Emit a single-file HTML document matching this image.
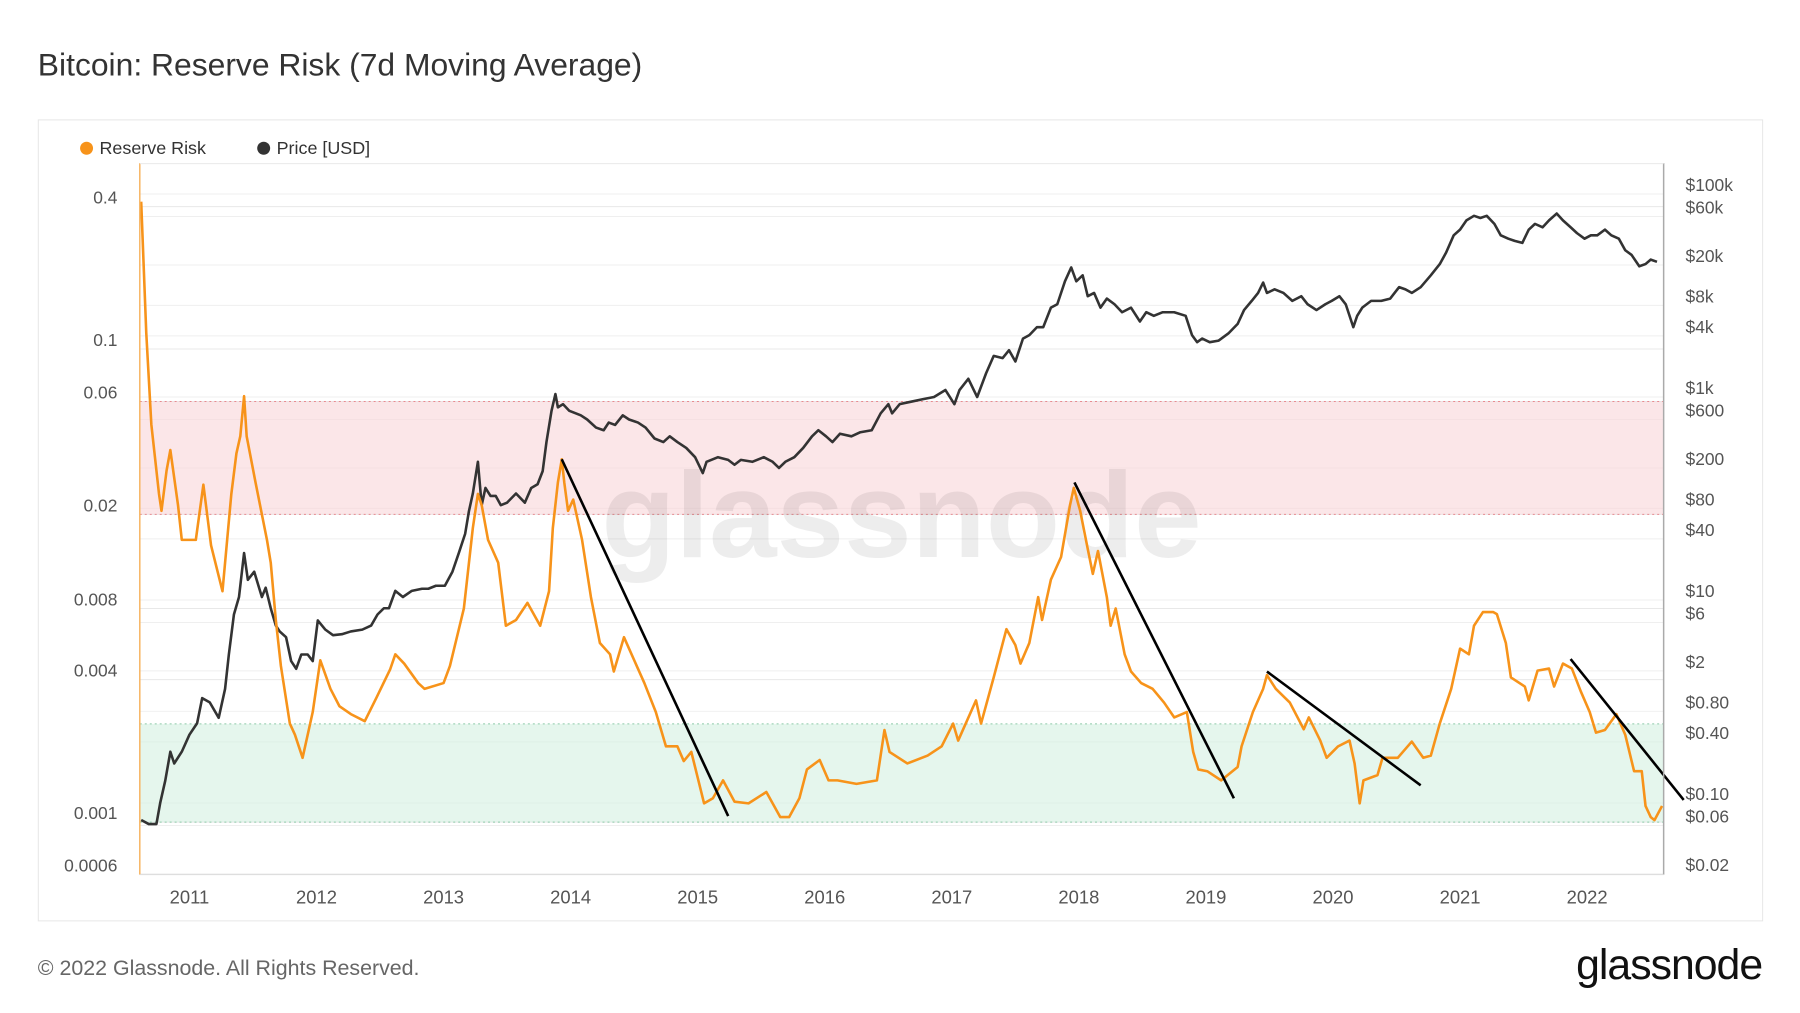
<!DOCTYPE html>
<html><head><meta charset="utf-8">
<style>
html,body{margin:0;padding:0;background:#fff;width:1800px;height:1013px;overflow:hidden;font-family:"Liberation Sans",sans-serif;}
svg{display:block}
</style></head>
<body>
<svg id="chart" width="1800" height="1013" viewBox="0 0 1800 1013">
 <g transform="scale(0.995)">
  <text x="38" y="76" font-size="32" fill="#333">Bitcoin: Reserve Risk (7d Moving Average)</text>
  <rect x="38.5" y="120.5" width="1733" height="805" fill="#fff" stroke="#e6e6e6"/>
  <g>
    <g>
      <circle cx="87" cy="149" r="6.5" fill="#f7931a"/>
      <text x="100" y="155" font-size="18" fill="#333">Reserve Risk</text>
    </g>
    <g>
      <circle cx="265" cy="149" r="6.5" fill="#333"/>
      <text x="278" y="155" font-size="18" fill="#333">Price [USD]</text>
    </g>
  </g>
  <g id="grid"></g>
  <g id="bands"></g>
  <text x="906" y="560" font-size="122" font-weight="bold" fill="#000" fill-opacity="0.07" text-anchor="middle">glassnode</text>
  <g id="series"></g>
  <g id="axes"></g>
  <text x="38" y="980" font-size="21.5" fill="#666">© 2022 Glassnode. All Rights Reserved.</text>
  <text x="1771" y="984" font-size="43" fill="#111" text-anchor="end" letter-spacing="-1">glassnode</text>
 </g>
</svg>
<script>
const rrYears=[2010.62,2010.66,2010.70,2010.76,2010.78,2010.82,2010.85,2010.91,2010.94,2011.05,2011.11,2011.17,2011.26,2011.33,2011.37,2011.40,2011.43,2011.45,2011.52,2011.61,2011.64,2011.68,2011.72,2011.79,2011.83,2011.89,2011.97,2012.03,2012.11,2012.18,2012.27,2012.38,2012.47,2012.58,2012.62,2012.69,2012.80,2012.85,2013.00,2013.05,2013.16,2013.23,2013.27,2013.30,2013.35,2013.43,2013.49,2013.57,2013.66,2013.76,2013.83,2013.86,2013.90,2013.93,2013.95,2013.98,2014.02,2014.09,2014.16,2014.23,2014.31,2014.34,2014.42,2014.50,2014.58,2014.67,2014.75,2014.84,2014.89,2014.95,2015.05,2015.12,2015.20,2015.29,2015.40,2015.54,2015.65,2015.72,2015.80,2015.86,2015.96,2016.03,2016.10,2016.25,2016.41,2016.47,2016.51,2016.65,2016.81,2016.92,2017.01,2017.05,2017.19,2017.23,2017.33,2017.43,2017.50,2017.54,2017.61,2017.68,2017.71,2017.78,2017.86,2017.93,2017.96,2018.01,2018.07,2018.11,2018.15,2018.22,2018.25,2018.29,2018.36,2018.41,2018.49,2018.58,2018.67,2018.75,2018.85,2018.90,2018.94,2019.01,2019.12,2019.25,2019.28,2019.37,2019.45,2019.48,2019.55,2019.66,2019.77,2019.81,2019.90,2019.95,2020.04,2020.13,2020.17,2020.21,2020.24,2020.35,2020.39,2020.51,2020.62,2020.71,2020.77,2020.84,2020.93,2021.00,2021.07,2021.11,2021.18,2021.26,2021.29,2021.36,2021.40,2021.51,2021.54,2021.61,2021.70,2021.74,2021.81,2021.88,2021.95,2022.02,2022.07,2022.14,2022.23,2022.30,2022.37,2022.43,2022.46,2022.50,2022.53,2022.59];
const rrValues=[0.42,0.117,0.048,0.0244,0.0207,0.0306,0.0374,0.0219,0.0156,0.0156,0.0267,0.0148,0.00946,0.0244,0.0362,0.0428,0.0632,0.0428,0.0273,0.0156,0.0125,0.00715,0.00457,0.00261,0.00234,0.00187,0.00292,0.00483,0.00366,0.00309,0.00286,0.00267,0.00334,0.00443,0.00512,0.00468,0.00387,0.00366,0.00387,0.00457,0.0080,0.0175,0.0244,0.0219,0.0156,0.0125,0.00676,0.00715,0.00845,0.00676,0.00946,0.0175,0.0273,0.0342,0.0273,0.0207,0.0231,0.0156,0.00894,0.00572,0.00512,0.00433,0.00605,0.00483,0.00387,0.00292,0.00209,0.00209,0.00181,0.00198,0.00120,0.00126,0.00150,0.00122,0.00120,0.00134,0.00105,0.00105,0.00126,0.00167,0.00183,0.00150,0.00150,0.00145,0.00150,0.00245,0.00198,0.00177,0.00191,0.00209,0.00261,0.00221,0.00327,0.00261,0.00409,0.00654,0.00560,0.00468,0.00572,0.00894,0.00715,0.0106,0.0132,0.0219,0.0259,0.0207,0.0143,0.0112,0.0140,0.00894,0.00676,0.0080,0.00512,0.00433,0.00387,0.00366,0.0032,0.00277,0.00292,0.00198,0.00167,0.00164,0.00150,0.00171,0.00209,0.00292,0.00366,0.00418,0.00366,0.0032,0.00247,0.00277,0.00221,0.00187,0.00209,0.00221,0.00177,0.00120,0.00150,0.00158,0.00187,0.00187,0.00219,0.00187,0.00191,0.00261,0.00366,0.00541,0.00512,0.00676,0.00773,0.00773,0.00757,0.00572,0.00409,0.00374,0.00327,0.00437,0.00446,0.00374,0.00468,0.00446,0.00357,0.00292,0.00239,0.00245,0.00286,0.00234,0.00164,0.00164,0.00117,0.00105,0.00102,0.00117];
const priceYears=[2010.62,2010.68,2010.74,2010.77,2010.81,2010.85,2010.88,2010.94,2011.00,2011.06,2011.10,2011.16,2011.23,2011.28,2011.31,2011.35,2011.39,2011.43,2011.46,2011.51,2011.57,2011.60,2011.64,2011.68,2011.71,2011.76,2011.80,2011.84,2011.88,2011.93,2011.97,2012.01,2012.07,2012.13,2012.20,2012.27,2012.36,2012.43,2012.48,2012.53,2012.57,2012.62,2012.68,2012.75,2012.83,2012.88,2012.94,2013.01,2013.07,2013.12,2013.17,2013.20,2013.23,2013.27,2013.30,2013.33,2013.37,2013.41,2013.45,2013.50,2013.57,2013.64,2013.69,2013.74,2013.78,2013.81,2013.85,2013.88,2013.90,2013.94,2013.99,2014.08,2014.13,2014.20,2014.26,2014.30,2014.35,2014.41,2014.46,2014.53,2014.59,2014.66,2014.73,2014.78,2014.84,2014.91,2014.98,2015.04,2015.07,2015.16,2015.24,2015.29,2015.34,2015.43,2015.52,2015.59,2015.64,2015.69,2015.76,2015.83,2015.90,2015.95,2016.01,2016.06,2016.12,2016.21,2016.28,2016.37,2016.44,2016.50,2016.53,2016.59,2016.68,2016.77,2016.86,2016.95,2017.02,2017.06,2017.13,2017.20,2017.27,2017.33,2017.40,2017.45,2017.50,2017.56,2017.61,2017.67,2017.72,2017.78,2017.83,2017.89,2017.94,2017.98,2018.03,2018.07,2018.12,2018.17,2018.22,2018.28,2018.34,2018.41,2018.48,2018.53,2018.59,2018.66,2018.75,2018.84,2018.89,2018.93,2018.97,2019.03,2019.10,2019.18,2019.25,2019.30,2019.36,2019.41,2019.45,2019.48,2019.54,2019.61,2019.68,2019.75,2019.80,2019.87,2019.94,2019.99,2020.05,2020.10,2020.16,2020.19,2020.23,2020.30,2020.38,2020.45,2020.52,2020.57,2020.62,2020.69,2020.77,2020.84,2020.89,2020.95,2021.00,2021.05,2021.11,2021.16,2021.21,2021.27,2021.32,2021.38,2021.43,2021.49,2021.54,2021.59,2021.65,2021.70,2021.76,2021.81,2021.87,2021.92,2021.98,2022.03,2022.08,2022.14,2022.19,2022.25,2022.30,2022.35,2022.41,2022.46,2022.50,2022.55,2022.59];
const priceValues=[0.068,0.062,0.062,0.10,0.166,0.32,0.245,0.32,0.47,0.61,1.08,0.98,0.69,1.33,2.9,7.2,10.7,29,15.8,19,10.7,13.2,8.3,5.6,4.9,4.3,2.5,2.1,2.9,2.9,2.5,6.3,5.1,4.5,4.6,4.9,5.1,5.6,7.2,8.3,8.3,12.3,10.7,12.3,12.9,12.9,13.8,13.8,19,29,45,75,112,230,86,127,106,106,86,91,112,91,127,138,186,360,730,1070,790,850,730,660,600,500,470,560,530,660,600,560,500,390,360,410,360,315,255,178,230,255,240,215,240,230,255,230,200,230,255,315,410,470,410,360,435,410,450,470,690,850,690,850,900,950,1000,1170,850,1170,1510,1000,1720,2540,2420,2890,2240,3760,4070,4880,4880,7600,8200,13800,18900,13800,15800,9840,10600,7600,9330,8200,6840,7600,5550,6840,6310,6840,6840,6310,4070,3470,3760,3470,3600,4270,5250,7200,8850,10600,13400,10600,11500,10600,8850,9840,8200,7200,8200,8850,9840,8200,4880,6310,7600,8850,8850,9330,12100,11500,10600,12100,15800,20400,26500,39200,44600,55000,61000,58000,61000,50800,39200,36300,34500,33000,44600,50800,47000,55000,64300,55000,47000,41200,36300,39200,39200,44600,39200,36300,27900,25100,19400,20400,22600,21500];
const trendStartYears=[2013.93,2017.965,2019.48,2021.87];
const trendStartValues=[0.0342,0.0273,0.00433,0.00489];
const trendEndYears=[2015.24,2019.22,2020.69,2022.76];
const trendEndValues=[0.00106,0.00126,0.00143,0.00124];
const rrTicks=[0.4,0.1,0.06,0.02,0.008,0.004,0.001,0.0006];
const rrTickLabels=["0.4","0.1","0.06","0.02","0.008","0.004","0.001","0.0006"];
const priceTicks=[100000,60000,20000,8000,4000,1000,600,200,80,40,10,6,2,0.8,0.4,0.1,0.06,0.02];
const priceTickLabels=["$100k","$60k","$20k","$8k","$4k","$1k","$600","$200","$80","$40","$10","$6","$2","$0.80","$0.40","$0.10","$0.06","$0.02"];
const yearTicks=[2011,2012,2013,2014,2015,2016,2017,2018,2019,2020,2021,2022];
const redBand=[0.02,0.06];
const greenBand=[0.001,0.0026];

const NS="http://www.w3.org/2000/svg";
const PL=140.5,PR=1672,PT=164,PB=879;
function xS(t){return 190.4+(t-2011)*127.7;}
function yRR(v){return 350.8+(-1-Math.log10(v))*237.7;}
function yP(p){return 195.0+(5-Math.log10(p))*102.0;}
function mk(tag,attrs,parent){const e=document.createElementNS(NS,tag);for(const k in attrs)e.setAttribute(k,attrs[k]);parent.appendChild(e);return e;}

const grid=document.getElementById('grid');
priceTicks.forEach((p,i)=>{
  const l=mk('line',{x1:PL,x2:PR,y1:yP(p),y2:yP(p),stroke:'#efefef','stroke-width':1},grid);
  
  
});
rrTicks.forEach((v,i)=>{
  const l=mk('line',{x1:PL,x2:PR,y1:yRR(v),y2:yRR(v),stroke:'#e8e8e8','stroke-width':1},grid);
  
  
});

const bands=document.getElementById('bands');
const rb=mk('rect',{x:PL,y:yRR(redBand[1]),width:PR-PL,height:yRR(redBand[0])-yRR(redBand[1]),fill:'#f9d6d8','fill-opacity':0.6},bands);


redBand.forEach(v=>{
  const l=mk('line',{x1:PL,x2:PR,y1:yRR(v),y2:yRR(v),stroke:'#e88a90','stroke-width':1,'stroke-dasharray':'2,3'},bands);
  
  
});
const gb=mk('rect',{x:PL,y:yRR(greenBand[1]),width:PR-PL,height:yRR(greenBand[0])-yRR(greenBand[1]),fill:'#d3f0e1','fill-opacity':0.6},bands);


greenBand.forEach(v=>{
  const l=mk('line',{x1:PL,x2:PR,y1:yRR(v),y2:yRR(v),stroke:'#8cc9a8','stroke-width':1,'stroke-dasharray':'2,3'},bands);
  
  
});

const ser=document.getElementById('series');
let dP=priceYears.map((t,i)=>(i?'L':'M')+xS(t).toFixed(1)+','+yP(priceValues[i]).toFixed(1)).join('');
const pl=mk('path',{d:dP,fill:'none',stroke:'#333','stroke-width':2.6,'stroke-linejoin':'round'},ser);


let dR=rrYears.map((t,i)=>(i?'L':'M')+xS(t).toFixed(1)+','+yRR(rrValues[i]).toFixed(1)).join('');
const rl=mk('path',{d:dR,fill:'none',stroke:'#f7931a','stroke-width':2.6,'stroke-linejoin':'round'},ser);


trendStartYears.forEach((t,i)=>{
  const l=mk('line',{x1:xS(t),y1:yRR(trendStartValues[i]),x2:xS(trendEndYears[i]),y2:yRR(trendEndValues[i]),stroke:'#000','stroke-width':2.6},ser);
  
  
});

const ax=document.getElementById('axes');
const lA=mk('line',{x1:PL,x2:PL,y1:PT,y2:PB,stroke:'#f7b563','stroke-width':1.5},ax);


const rA=mk('line',{x1:PR,x2:PR,y1:PT,y2:PB,stroke:'#aaa','stroke-width':1.5},ax);


const tA=mk('line',{x1:PL,x2:PR,y1:PT+0.5,y2:PT+0.5,stroke:'#eaeaea','stroke-width':1},ax);


const bA=mk('line',{x1:PL,x2:PR,y1:PB,y2:PB,stroke:'#ddd','stroke-width':1},ax);


rrTicks.forEach((v,i)=>{
  const t=mk('text',{x:118,y:yRR(v)-3,'font-size':17.5,fill:'#555','text-anchor':'end'},ax);
  t.textContent=rrTickLabels[i];
  
  
});
priceTicks.forEach((p,i)=>{
  const t=mk('text',{x:1694,y:yP(p)-3,'font-size':17.5,fill:'#555'},ax);
  t.textContent=priceTickLabels[i];
  
  
});
yearTicks.forEach(y=>{
  const t=mk('text',{x:xS(y),y:908,'font-size':18.5,fill:'#555','text-anchor':'middle'},ax);
  t.textContent=String(y);
  
  
});
</script>
</body></html>
